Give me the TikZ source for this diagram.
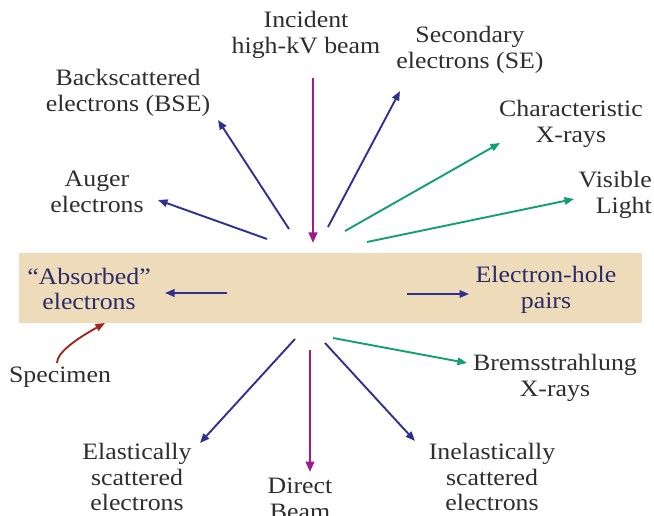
\documentclass[tikz,border=0pt]{standalone}
\usepackage{fontspec}
\setmainfont[FakeStretch=1.1]{Liberation Serif}
\usetikzlibrary{arrows.meta}
\definecolor{spectan}{HTML}{EEDBBA}
\definecolor{txtgray}{HTML}{2E2E2E}
\definecolor{navytxt}{HTML}{2A2C6A}
\definecolor{eblue}{HTML}{2E3192}
\definecolor{xgreen}{HTML}{12A070}
\definecolor{beammag}{HTML}{9E1A8E}
\definecolor{specred}{HTML}{A0281E}
\begin{document}
\begin{tikzpicture}[x=1pt,y=-1pt,
  lbl/.style={align=center, font=\fontsize{23.5}{25.5}\selectfont, text=txtgray, inner sep=0pt},
  inlbl/.style={lbl, text=navytxt},
  tip/.style={-{Triangle[length=9.5pt,width=7.5pt]}},
  bluearr/.style={tip, draw=eblue, line width=1.9pt},
  greenarr/.style={tip, draw=xgreen, line width=1.9pt},
  magarr/.style={-{Triangle[length=10.5pt,width=8.5pt]}, draw=beammag, line width=2.8pt},
  redarr/.style={tip, draw=specred, line width=1.9pt}]
\useasboundingbox (0,0) rectangle (654,516);
\fill[white] (0,0) rectangle (654,516);
% specimen
\node[fill=spectan, minimum width=623pt, minimum height=70pt, anchor=north west, inner sep=0pt] (spec) at (19,253) {};
% labels
\node[lbl] (inc) at (306,35) {Incident\\high-kV beam};
\node[lbl] (se) at (470,50) {Secondary\\electrons (SE)};
\node[lbl] (bse) at (128,93) {Backscattered\\electrons (BSE)};
\node[lbl] (cx) at (571,124) {Characteristic\\X-rays};
\node[lbl, align=right, anchor=east] (vl) at (652,195) {Visible\\Light};
\node[lbl] (aug) at (97,192) {Auger\\electrons};
\node[inlbl] (abs) at (89,289) {“Absorbed”\\electrons};
\node[inlbl] (ehp) at (546,290) {Electron-hole\\pairs};
\node[lbl] (spm) at (60,377) {Specimen};
\node[lbl] (brx) at (555,378) {Bremsstrahlung\\X-rays};
\node[lbl] (inel) at (492,477) {Inelastically\\scattered\\electrons};
\node[lbl] (el) at (137,477) {Elastically\\scattered\\electrons};
\node[lbl] (db) at (300,499) {Direct\\Beam};
% arrow coordinates
\coordinate (incS) at (313,78);   \coordinate (incE) at (313,243);
\coordinate (bseS) at (289,229);  \coordinate (bseE) at (218,120);
\coordinate (augS) at (267,239);  \coordinate (augE) at (158,200);
\coordinate (seS) at (328,227);   \coordinate (seE) at (400,91);
\coordinate (cxS) at (345,231);   \coordinate (cxE) at (500,143);
\coordinate (vlS) at (367,242);   \coordinate (vlE) at (574,199);
\coordinate (absS) at (227,293);  \coordinate (absE) at (165,293);
\coordinate (ehS) at (407,294);   \coordinate (ehE) at (469,294);
\coordinate (brS) at (333,338);   \coordinate (brE) at (467,363);
\coordinate (inS) at (325,343);   \coordinate (inE) at (415,441);
\coordinate (dbS) at (310,350);   \coordinate (dbE) at (310,472);
\coordinate (elS) at (295,339);   \coordinate (elE) at (200,443);
\coordinate (spS) at (57,363);    \coordinate (spE) at (105,323);
% arrows
\draw[magarr] (incS) -- (incE);
\draw[bluearr] (bseS) -- (bseE);
\draw[bluearr] (augS) -- (augE);
\draw[bluearr] (seS) -- (seE);
\draw[greenarr] (cxS) -- (cxE);
\draw[greenarr] (vlS) -- (vlE);
\draw[bluearr] (absS) -- (absE);
\draw[bluearr] (ehS) -- (ehE);
\draw[greenarr] (brS) -- (brE);
\draw[bluearr] (inS) -- (inE);
\draw[magarr] (dbS) -- (dbE);
\draw[bluearr] (elS) -- (elE);
\draw[redarr] (spS) .. controls (57,352) and (78,338) .. (spE);
\end{tikzpicture}
\end{document}
